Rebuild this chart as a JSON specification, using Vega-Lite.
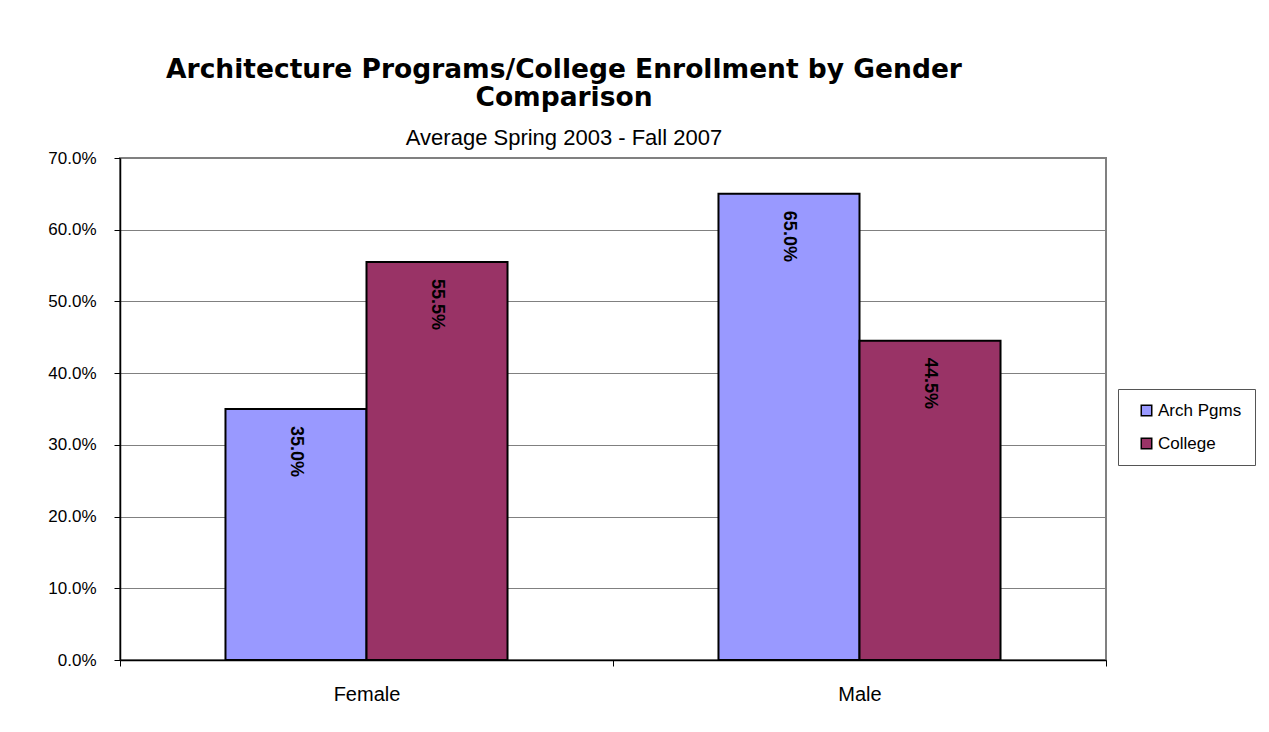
{
  "$schema": "https://vega.github.io/schema/vega-lite/v6.json",
  "width": 986,
  "height": 502,
  "autosize": {"type": "none"},
  "padding": {"left": 120, "top": 158, "right": 163, "bottom": 72},
  "background": "white",
  "title": {
    "text": ["Architecture Programs/College Enrollment by Gender", "Comparison"],
    "subtitle": "Average Spring 2003 - Fall 2007",
    "font": "DejaVu Sans",
    "fontSize": 26.5,
    "fontWeight": "bold",
    "lineHeight": 28,
    "color": "black",
    "subtitleFont": "Liberation Sans",
    "subtitleFontSize": 22,
    "subtitleColor": "black",
    "subtitlePadding": 17,
    "anchor": "middle",
    "frame": "group",
    "dx": -49,
    "offset": 0
  },
  "data": {
    "values": [
      {"gender": "Female", "program": "Arch Pgms", "value": 0.35},
      {"gender": "Female", "program": "College", "value": 0.555},
      {"gender": "Male", "program": "Arch Pgms", "value": 0.65},
      {"gender": "Male", "program": "College", "value": 0.445}
    ]
  },
  "encoding": {
    "x": {
      "field": "gender",
      "type": "nominal",
      "scale": {"paddingInner": 0, "paddingOuter": 0},
      "axis": {
        "title": null,
        "labelAngle": 0,
        "labelFont": "Liberation Sans",
        "labelFontSize": 20,
        "labelColor": "black",
        "labelPadding": 18,
        "tickBand": "extent",
        "tickSize": 6,
        "tickColor": "black",
        "domainColor": "black",
        "domainWidth": 1.5,
        "grid": false
      }
    },
    "xOffset": {
      "field": "program",
      "type": "nominal",
      "scale": {"paddingInner": 0, "paddingOuter": 0.748}
    },
    "y": {
      "field": "value",
      "type": "quantitative",
      "scale": {"domain": [0, 0.7], "nice": false},
      "axis": {
        "title": null,
        "values": [0, 0.1, 0.2, 0.3, 0.4, 0.5, 0.6, 0.7],
        "format": ".1%",
        "labelFont": "Liberation Sans",
        "labelFontSize": 17,
        "labelColor": "black",
        "labelPadding": 18,
        "tickSize": 6,
        "tickColor": "black",
        "domainColor": "black",
        "domainWidth": 1.5,
        "grid": true,
        "gridColor": "#808080",
        "gridWidth": 1
      }
    }
  },
  "layer": [
    {
      "mark": {"type": "bar", "stroke": "black", "strokeWidth": 2},
      "encoding": {
        "color": {
          "field": "program",
          "type": "nominal",
          "scale": {"domain": ["Arch Pgms", "College"], "range": ["#9999FF", "#993366"]},
          "legend": {
            "title": null,
            "orient": "none",
            "legendX": 998,
            "legendY": 231,
            "padding": 13,
            "strokeColor": "#555555",
            "fillColor": "white",
            "symbolType": "square",
            "symbolSize": 110,
            "symbolStrokeColor": "black",
            "symbolStrokeWidth": 1.5,
            "symbolOpacity": 1,
            "symbolOffset": 7,
            "labelFont": "Liberation Sans",
            "labelFontSize": 17,
            "labelColor": "black",
            "labelOffset": 3,
            "rowPadding": 15,
            "labelLimit": 200
          }
        }
      }
    },
    {
      "mark": {
        "type": "text",
        "angle": 90,
        "align": "left",
        "baseline": "middle",
        "dx": 17,
        "font": "Liberation Sans",
        "fontSize": 18,
        "fontWeight": "bold",
        "color": "black"
      },
      "encoding": {
        "text": {"field": "value", "type": "quantitative", "format": ".1%"}
      }
    }
  ],
  "config": {
    "view": {"stroke": "#808080", "strokeWidth": 2}
  }
}
